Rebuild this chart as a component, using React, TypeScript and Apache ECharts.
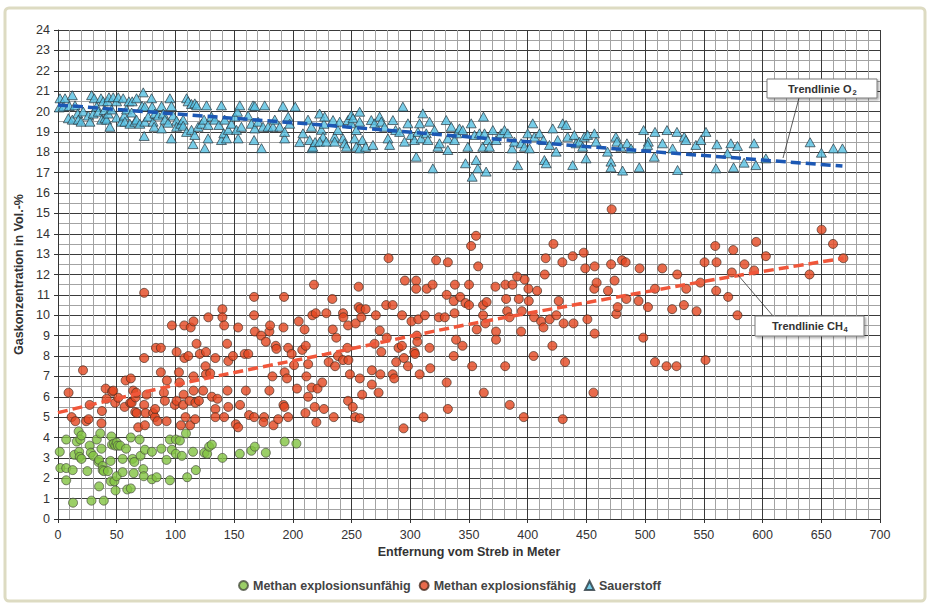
import React, { useEffect, useRef } from "react";
import * as echarts from "echarts";

// Methan explosionsunfähig (green circles) [distance m, vol.-%]
const methanUnfaehig: number[][] = [
  [1.5,3.3],[2,2.5],[7,2.5],[7,1.9],[7,3.9],[12.5,2.4],[12.8,0.8],[14,3.15],[16,3.8],[17.6,4.3],[18,3.3],[18.5,3.05],[19,3.9],[20,4.1],[20,2.95],
  [25,2.35],[27,3.6],[28,3.25],[28.5,0.9],[30,3.1],[33,3.9],[34.5,2.8],[35,2.9],[35,1.6],[36,4.2],[37,3.45],[38,2.6],[38,2.4],[39,0.9],[39,2.35],
  [42.5,2.35],[44.8,2.85],[45,1.85],[45.5,4.05],[46,3.65],[47.6,3.7],[48,1.85],[48.8,3.6],[49,1.4],[50,2.1],[50,3.75],[51,3.6],[53,3.6],[55,2.95],
  [55,2.3],[58,3.45],[59,1.45],[62,4.0],[62,1.5],[63.5,2.95],[64.5,2.25],[65,2.8],[69.5,3.9],[70.3,3.1],[72.6,2.45],[73,2.1],[74,3.4],[80,3.3],
  [80,1.95],[84,2.05],[88,3.45],[92.4,2.9],[95.3,3.9],[95.3,1.9],[97,3.4],[100.4,3.2],[100.4,3.9],[103.8,3.85],[105.5,3.1],[109,4.2],[110,2.05],
  [115,3.3],[117.4,2.4],[124.7,3.25],[127,3.2],[128.7,3.55],[131,3.65],[140,3.0],[154.8,3.2],[164.7,3.35],[167.6,3.55],[177,3.25],[193,3.8],[203,3.7]
];

// Methan explosionsfähig (red circles)
const methanFaehig: number[][] = [
  [9,6.2],[11.6,5.0],[14.8,4.8],[21.3,7.3],[24,4.8],[26,4.9],[27,5.6],[37.4,5.3],[37,4.7],[40.6,6.4],[41.4,5.9],[46,6.25],[47,6.3],[48.7,5.7],
  [51.3,5.95],[56.7,5.5],[57.6,6.8],[61.5,5.7],[62,6.9],[62.7,5.7],[64,6.3],[65.8,5.25],[66,5.97],[66.6,6.2],[67,5.2],[68.3,4.5],[73.4,5.6],
  [73.4,7.9],[73.4,11.1],[74,4.6],[74.6,5.2],[75.4,6.1],[81,5.2],[82.5,5.0],[82.7,5.4],[83.4,8.4],[84.8,4.8],[87.6,8.4],[87.6,7.2],[90.2,6.2],
  [91,5.8],[92.5,4.8],[92.7,6.8],[97,9.5],[99.5,5.6],[101,5.8],[101,8.2],[103,7.2],[103.5,6.7],[104.6,4.6],[106.6,5.6],[107,6.1],[107.5,9.5],
  [107.7,7.9],[108.6,5.0],[111,8.0],[112,5.8],[112.5,4.6],[113,9.4],[115.4,9.7],[115.4,7.0],[115.4,6.3],[116.8,4.9],[117,5.7],[118,8.6],[120,5.8],
  [120.8,8.1],[123.6,6.3],[125.6,7.5],[126,8.2],[126,7.1],[128,9.9],[129.6,7.15],[131,6.0],[134,7.9],[134,5.4],[134,5.0],[135.8,5.9],[140,10.3],
  [140,9.9],[141.5,9.5],[141.5,5.0],[144,8.6],[144.3,6.3],[145,7.75],[145,5.5],[149,8.0],[151.4,4.65],[153.4,4.5],[153.4,9.4],[155,5.6],[159,8.1],
  [160,6.3],[162,8.1],[162.7,5.1],[167,10.9],[167,10.0],[167.6,9.2],[167,5.0],[173,9.0],[175.5,5.0],[175,4.75],[177,8.7],[180,9.2],[180.6,9.5],
  [180,6.3],[182.6,7.0],[183.5,4.6],[185.4,8.5],[186,8.35],[187.5,4.9],[192,9.4],[192,5.6],[192.8,5.5],[192.5,10.9],[193,7.2],[195,6.9],[196,8.4],
  [196,5.0],[199,8.1],[201,7.55],[203.5,6.4],[205,9.7],[208,8.3],[210,9.3],[210.7,5.2],[211,8.5],[211.5,7.0],[213,7.6],[213,6.0],[216,6.45],
  [216.6,10.0],[218,11.5],[218.6,5.5],[219.5,10.1],[220,4.75],[221,6.4],[225,6.7],[226.5,5.4],[228.5,10.1],[230.5,7.7],[233.6,10.8],[234,9.3],
  [234.8,5.0],[236,7.5],[237,8.9],[238.4,8.0],[242.7,10.1],[243,9.9],[242.7,7.8],[246.4,8.4],[247,9.5],[247.3,7.8],[247,5.8],[248.6,7.1],[251,5.5],
  [253,5.0],[253.5,9.6],[256,11.4],[256,10.4],[257,6.9],[257,4.95],[257.5,10.3],[258.3,9.9],[259,6.1],[262,10.3],[267.3,7.3],[267.3,6.6],[269.6,8.6],
  [270.7,10.0],[273,6.2],[274,9.25],[274.5,7.1],[275.3,8.2],[279.5,10.5],[280,8.9],[281.5,12.8],[285,10.5],[285,7.1],[286.3,6.9],[288,7.7],[290,8.4],
  [292.9,8.5],[293,10.0],[294.3,4.45],[294.6,7.9],[295.4,11.7],[298,7.5],[301,9.7],[303.4,8.2],[304,8.1],[305,11.7],[305,11.3],[305.6,9.0],[306,8.7],
  [306.8,9.8],[308,7.1],[311.3,5.0],[312.4,10.0],[314,11.3],[316.4,8.4],[317,7.4],[319,11.5],[322,12.7],[324.3,9.9],[329.4,9.9],[331,11.0],[331,6.7],
  [332,12.6],[332,5.4],[337,8.0],[337,10.7],[337.7,10.1],[338,11.5],[339,8.8],[342.5,10.9],[344.5,8.5],[347,10.6],[350,10.5],[350,11.5],[351.8,13.4],
  [352.7,7.5],[356,13.9],[356.6,9.3],[357.8,12.4],[362,10.5],[362,10.0],[362.6,6.2],[364,9.6],[365,10.65],[372.5,11.4],[373,9.2],[373,8.8],[380.8,7.5],
  [381,11.5],[381.6,10.8],[382.5,10.2],[384.5,9.9],[384.7,5.6],[387,11.5],[391,11.9],[392.4,10.8],[394.4,9.2],[395,10.2],[396.6,5.0],[397.4,11.75],
  [400.6,11.3],[400.9,10.7],[405,8.0],[405.4,9.9],[408,11.2],[411.4,9.7],[413.4,9.4],[414.5,12.0],[415.3,12.8],[418.7,9.8],[421,8.5],[421.9,13.5],
  [424.4,10.0],[426.4,10.7],[429.5,12.6],[429.8,4.9],[430.6,9.6],[431.8,7.7],[438.3,12.9],[439,9.6],[447.7,13.07],[449,12.3],[450.8,9.8],[457,12.4],
  [457,9.1],[456,6.2],[456.7,11.3],[458.7,11.6],[468.4,11.2],[471,12.5],[471.5,15.2],[474,11.7],[475.5,10.06],[476.6,10.4],[480.3,12.7],[483.4,12.6],
  [484,10.8],[494.4,10.7],[495.3,12.3],[498.4,8.9],[502.4,10.4],[508.4,11.3],[508.4,7.7],[514.6,12.3],[518.2,7.5],[523,10.3],[526.7,7.5],[527.3,12.0],
  [533,10.5],[535,11.3],[543.8,10.2],[547,11.6],[550.6,12.6],[551.4,7.8],[559.7,13.4],[560.5,11.2],[560.8,12.6],[570.7,10.9],[573.8,12.1],[575,13.2],
  [578.6,10.0],[584.6,12.5],[592.8,12.2],[594.6,13.6],[602.8,12.9],[640,12.0],[650.3,14.2],[660,13.5],[668.8,12.8]
];

// Sauerstoff (blue triangles)
const sauerstoff: number[][] = [
  [1.1,20.2],[1.7,20.65],[4.5,20.24],[6,20.65],[8.8,19.67],[9.6,20.27],[12.2,20.8],[12.2,19.6],[14.5,20.3],[16.8,19.9],[17.3,19.6],[19.6,19.5],
  [21.5,20.0],[25.8,19.8],[27.2,19.5],[28.6,20.8],[30,19.9],[30.9,20.65],[32.9,20.24],[34.3,19.99],[36.6,20.65],[37.2,19.6],[38.5,20.5],[39.4,20.07],
  [40,19.67],[41.4,19.6],[42.3,20.5],[42.8,19.9],[43.4,20.7],[44.2,19.25],[45.7,20.1],[47,20.7],[49.9,20.5],[49.9,19.7],[51.3,20.7],[54,19.5],
  [55.5,20.65],[56.4,19.8],[57,19.5],[58.4,20.1],[60.4,20.5],[61.2,19.4],[62.7,19.95],[63.2,20.5],[65.5,19.5],[66.9,20.65],[66.9,19.6],[69.7,19.4],
  [71.7,20.27],[72.6,20.94],[73.4,18.8],[74,20.24],[74,19.5],[76.8,19.75],[79.7,20.65],[80.2,20.24],[81,19.5],[81.9,19.25],[82.5,19.9],[85.3,19.8],
  [88.2,20.27],[88.2,19.17],[89.6,19.9],[91,19.6],[93.8,19.45],[95.3,20.65],[96.6,20.27],[96.6,18.68],[98,19.8],[101,19.55],[101,19.25],[104.6,19.4],
  [106.6,19.6],[106.6,19.3],[109.5,20.65],[109.5,19.0],[110.8,20.5],[113.7,20.37],[113.7,19.1],[115,18.4],[116.5,20.4],[116.5,18.85],[118,20.3],
  [119.3,19.25],[122.2,19.4],[124.4,19.6],[125,18.2],[126.5,20.3],[127.8,18.68],[127.8,19.34],[130.7,19.75],[133.5,19.6],[137,19.34],[139.2,20.3],
  [139.2,18.6],[141.2,18.93],[142,19.6],[143.5,18.68],[145,19.1],[147.7,19.4],[150.5,19.75],[152,19.1],[152.8,19.99],[153.4,18.68],[154.8,20.3],
  [156.2,19.25],[161.9,19.8],[164.7,19.4],[166.1,20.3],[167,18.6],[167.6,20.27],[167.6,19.17],[170.4,19.5],[173.3,18.2],[174.6,19.25],[176,20.3],
  [178.9,19.25],[183.1,19.25],[184.6,19.6],[188.8,19.25],[191.6,20.27],[193,18.68],[193,19.0],[196,19.75],[197.3,19.4],[202,20.24],[205.8,18.5],
  [208.6,18.93],[212.9,19.6],[214.3,18.6],[215.8,19.25],[216.3,18.2],[217,18.27],[219,18.5],[222.8,19.9],[224.3,19.1],[226.5,19.4],
  [227.1,19.75],[225.7,18.76],[222.8,18.52],[228.5,18.52],[234.2,19.58],[235.6,18.76],[235.6,18.52],[238.4,19.09],[239.9,19.5],[242.7,18.68],
  [244.1,18.44],[245.6,18.27],[246.9,19.58],[249.8,19.42],[249.8,19.83],[251.2,19.67],[252.6,18.68],[254,19.09],[256.9,19.99],[256.9,19.5],
  [254,18.27],[259.2,18.6],[256.9,18.19],[262,18.27],[266.8,19.58],[269.6,19.42],[268.2,18.36],[273.9,19.75],[275.3,19.5],[278.1,19.25],[281,18.68],
  [282.4,18.36],[285.2,19.58],[287.5,19.09],[290.9,19.0],[293.7,20.24],[295.1,18.52],[298,19.42],[300.8,18.85],[303.6,18.6],[305.1,17.78],
  [306.5,19.0],[307.9,19.42],[310.7,19.91],[309.3,18.68],[313.6,18.93],[315,18.6],[316.4,19.5],[319.2,17.21],[320.6,19.09],[323.5,18.27],[324.9,18.44],
  [330.6,19.58],[332,18.11],[332,18.68],[334.9,19.25],[337.7,18.6],[339.6,18.93],[341.9,19.17],[344.7,19.09],[347,17.46],[349,18.27],[351.9,19.42],
  [352.7,16.8],[354.7,18.85],[356.1,17.62],[357.5,17.21],[358.9,18.93],[361.7,18.27],[362.3,19.75],[363.2,18.93],[364.6,17.05],[366,18.6],[367.4,18.27],
  [370.3,19.09],[373.1,18.6],[377.4,18.93],[380.2,19.09],[383,18.93],[386.7,18.19],[388.7,18.52],[391.5,17.37],[394.4,18.44],[397.2,18.27],[400,18.93],
  [401.5,18.19],[404.3,19.42],[405.7,18.76],[410,18.93],[413.4,18.6],[414.2,17.62],[415.7,17.46],[418.5,18.36],[421.3,19.17],[424.2,18.03],[425.5,18.6],
  [429.8,19.42],[432.7,19.34],[434,18.76],[438.3,17.37],[439.7,18.85],[441.2,18.44],[444,18.52],[446.8,18.27],[449.7,17.7],
  [448.2,18.76],[451,18.85],[456.8,18.93],[458.2,18.52],[468,18.03],[470.9,17.54],[470.9,17.26],[475.1,18.76],[476,18.52],[479.4,18.27],[484.5,18.44],
  [488,18.19],[480.8,17.1],[495,17.26],[498.7,19.09],[508.4,19.0],[502.7,18.52],[502.1,18.36],[507.8,17.78],[514.8,18.44],[518.6,19.09],[523.4,18.19],
  [527.1,19.0],[527.6,17.13],[533.3,18.76],[534.7,18.6],[543.2,18.36],[547.5,18.6],[551.8,19.0],[560.3,17.21],[561.1,18.39],[570.1,17.95],[573,18.44],
  [575.3,17.26],[578.6,18.31],[584.3,17.49],[592.8,18.44],[594.3,17.37],[602.8,17.7],[640.5,18.49],[650.1,17.98],[660.3,18.19],[668,18.19]
];

// Trend lines
const trendO2: number[][] = [[0,20.32],[227,19.33],[450,18.28],[668,17.32]];
const trendCH4: number[][] = [[0,5.22],[111,6.72],[227,8.08],[336,9.4],[452,10.64],[562,11.78],[669,12.8]];

const xTicks = { min: 0, max: 700, interval: 50 };
const yTicks = { min: 0, max: 24, interval: 1 };

const FONT = "'Liberation Sans', Arial, sans-serif";

export default function App() {
  const ref = useRef<HTMLDivElement>(null);
  useEffect(() => {
    if (!ref.current) return;
    const chart = echarts.init(ref.current, null, { renderer: "svg" });
    const axisCommon = {
      type: "value" as const,
      axisLine: { show: true, onZero: false, lineStyle: { color: "#333", width: 1 } },
      axisTick: { show: true, length: 4, lineStyle: { color: "#333" } },
      axisLabel: { fontSize: 12.5, color: "#333", fontFamily: FONT },
      splitLine: { show: true, lineStyle: { color: "#3a3a3a", width: 1 } },
      minorSplitLine: { show: true, lineStyle: { color: "#a3a3a3", width: 1 } },
      nameLocation: "middle" as const,
      nameTextStyle: { fontSize: 12.5, fontWeight: "bold" as const, color: "#333", fontFamily: FONT },
    };
    const boxStyle = {
      fill: "#fff", stroke: "#7a7a7a", lineWidth: 1, shadowBlur: 2,
      shadowOffsetX: 1.5, shadowOffsetY: 1.5, shadowColor: "rgba(0,0,0,0.35)",
    };
    const labelStyle = { fontSize: 11, fontWeight: "bold", fill: "#333", fontFamily: FONT, verticalAlign: "middle" };
    const subStyle = { fontSize: 7.5, fontWeight: "bold", fill: "#333", fontFamily: FONT, verticalAlign: "middle" };
    chart.setOption({
      animation: false,
      backgroundColor: "#ffffff",
      textStyle: { fontFamily: FONT },
      grid: { left: 58, right: 50, top: 30, bottom: 89, outerBoundsMode: "none", containLabel: false },
      xAxis: {
        ...axisCommon,
        ...xTicks,
        name: "Entfernung vom Streb in Meter",
        nameGap: 26,
        minorTick: { show: false, splitNumber: 5 },
        axisLabel: { ...axisCommon.axisLabel, margin: 9 },
      },
      yAxis: {
        ...axisCommon,
        ...yTicks,
        name: "Gaskonzentration in Vol.-%",
        nameGap: 27,
        minorTick: { show: false, splitNumber: 2 },
        axisLabel: { ...axisCommon.axisLabel, margin: 8 },
      },
      legend: {
        data: [
          { name: "Methan explosionsunfähig", icon: "circle" },
          { name: "Methan explosionsfähig", icon: "circle" },
          { name: "Sauerstoff", icon: "triangle" },
        ],
        left: 233,
        top: 574,
        itemWidth: 9,
        itemHeight: 9,
        itemGap: 8,
        textStyle: { fontSize: 12.5, fontWeight: "bold", color: "#444", fontFamily: FONT },
      },
      series: [
        {
          name: "Methan explosionsunfähig",
          type: "scatter",
          data: methanUnfaehig,
          symbol: "circle",
          symbolSize: 9,
          itemStyle: { color: "#82c341", borderColor: "#4a5040", borderWidth: 0.9 },
          z: 3,
        },
        {
          name: "Methan explosionsfähig",
          type: "scatter",
          data: methanFaehig,
          symbol: "circle",
          symbolSize: 9,
          itemStyle: { color: "#e4461f", borderColor: "#4a2e22", borderWidth: 0.9 },
          z: 3,
        },
        {
          name: "Sauerstoff",
          type: "scatter",
          data: sauerstoff,
          symbol: "triangle",
          symbolSize: [10, 9],
          itemStyle: { color: "#56c0e2", borderColor: "#2a3840", borderWidth: 0.9 },
          z: 3,
        },
        {
          name: "Trend O2",
          type: "line",
          data: trendO2,
          symbol: "none",
          lineStyle: { color: "#1c58b4", width: 3.5, type: [10, 5] },
          z: 5,
          silent: true,
        },
        {
          name: "Trend CH4",
          type: "line",
          data: trendCH4,
          symbol: "none",
          smooth: 0.3,
          lineStyle: { color: "#f0563a", width: 3.5, type: [10, 5] },
          z: 5,
          silent: true,
        },
      ],
      graphic: [
        {
          type: "rect",
          shape: { x: 5, y: 8, width: 920, height: 593, r: 4 },
          style: { fill: "none", stroke: "#dddbc2", lineWidth: 3 },
          z: -10,
        },
        {
          type: "line",
          shape: { x1: 799, y1: 98, x2: 783, y2: 158 },
          style: { stroke: "#333", lineWidth: 0.8 },
          z: 20,
        },
        { type: "rect", shape: { x: 767, y: 79, width: 110, height: 19 }, style: boxStyle, z: 21 },
        { type: "text", x: 788, y: 88.5, style: { ...labelStyle, text: "Trendlinie O", align: "left" }, z: 22 },
        { type: "text", x: 852.5, y: 92, style: { ...subStyle, text: "2", align: "left" }, z: 22 },
        {
          type: "line",
          shape: { x1: 738, y1: 275, x2: 773, y2: 316 },
          style: { stroke: "#333", lineWidth: 0.8 },
          z: 20,
        },
        { type: "rect", shape: { x: 755, y: 316, width: 109, height: 20 }, style: boxStyle, z: 21 },
        { type: "text", x: 772, y: 326, style: { ...labelStyle, text: "Trendlinie CH", align: "left" }, z: 22 },
        { type: "text", x: 843.5, y: 329.5, style: { ...subStyle, text: "4", align: "left" }, z: 22 },
      ],
    });
    return () => chart.dispose();
  }, []);
  return (
    <div
      ref={ref}
      style={{ position: "absolute", left: 0, top: 0, width: 930, height: 608, background: "#fff" }}
    />
  );
}
